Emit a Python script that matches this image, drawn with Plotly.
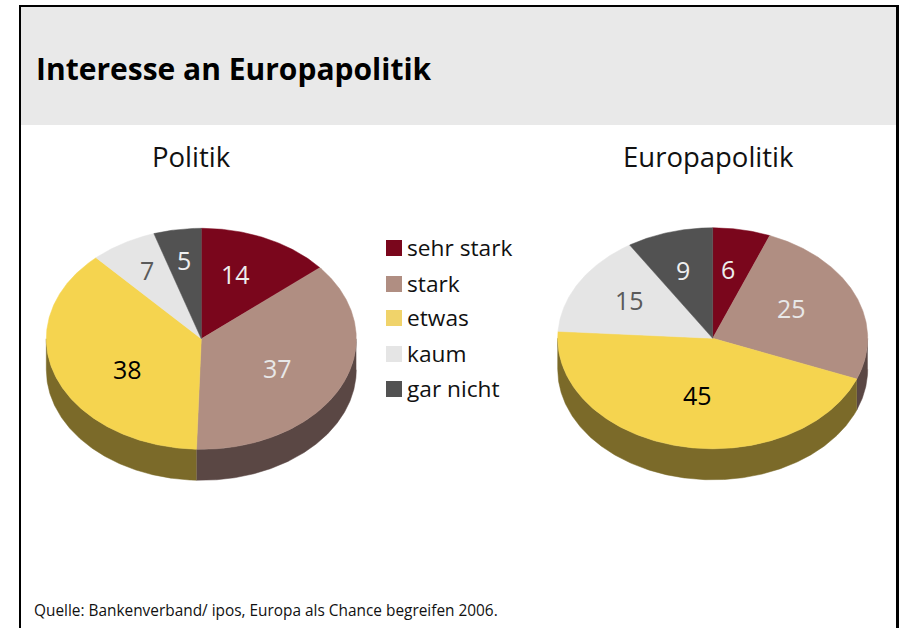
import numpy as np
import plotly.graph_objects as go

CATEGORIES = ["sehr stark", "stark", "etwas", "kaum", "gar nicht"]
POLITIK = [14, 37, 38, 7, 5]
EUROPAPOLITIK = [6, 25, 45, 15, 9]
COLORS = ["#7A061C", "#B08E82", "#F5D44F", "#E5E5E5", "#525252"]
LEGEND_COLORS = ["#7A061C", "#B08E82", "#F0D36A", "#E5E5E5", "#525252"]
SIDE_COLORS = ["#3D030E", "#5A4744", "#7B6A29", "#737373", "#292929"]
LABEL_COLORS = ["#EDEDED", "#E8E8E8", "#000000", "#5A5A5A", "#F0F0F0"]
FONT = "Open Sans"

W, H = 899, 628
RX, RY, DEPTH = 155, 110.5, 31

fig = go.Figure()


def wedge(cx, cy, a0, a1):
    t = np.radians(np.linspace(a0, a1, max(int(abs(a1 - a0) * 2), 2)))
    return cx + RX * np.sin(t), cy - RY * np.cos(t)


def add_pie(values, cx, cy, label_pos):
    total = sum(values)
    edges = np.concatenate([[0], np.cumsum(values)]) / total * 360
    # rim: only the front half (90..270 degrees) is visible
    for i in range(len(values)):
        a0, a1 = max(edges[i], 90), min(edges[i + 1], 270)
        if a1 <= a0:
            continue
        x, y = wedge(cx, cy, a0, a1)
        fig.add_trace(go.Scatter(
            x=np.concatenate([x, x[::-1]]),
            y=np.concatenate([y, y[::-1] + DEPTH]),
            mode="lines", fill="toself", fillcolor=SIDE_COLORS[i],
            line=dict(width=0.5, color=SIDE_COLORS[i]), hoverinfo="skip", showlegend=False))
    for i, v in enumerate(values):
        x, y = wedge(cx, cy, edges[i], edges[i + 1])
        fig.add_trace(go.Scatter(
            x=np.concatenate([[cx], x, [cx]]),
            y=np.concatenate([[cy], y, [cy]]),
            mode="lines", fill="toself", fillcolor=COLORS[i],
            line=dict(width=0.5, color=COLORS[i]), name=CATEGORIES[i], showlegend=False))
    for i, v in enumerate(values):
        fig.add_annotation(x=label_pos[i][0], y=label_pos[i][1], text=str(v), showarrow=False,
                           xanchor="center", yanchor="middle",
                           font=dict(family=FONT, size=25, color=LABEL_COLORS[i]))


add_pie(POLITIK, 201.3, 338.8, [(235.5, 274), (277, 368), (127.5, 369), (146.5, 270), (184, 260)])
add_pie(EUROPAPOLITIK, 712.7, 338.3, [(727.5, 269), (791, 308), (697, 395), (629, 300), (683, 270)])

# legend
LEGEND_Y = [247.5, 283.5, 317.5, 353.5, 388.5]
for name, color, y in zip(CATEGORIES, LEGEND_COLORS, LEGEND_Y):
    fig.add_shape(type="rect", x0=386, x1=402, y0=y - 7.5, y1=y + 8.5, fillcolor=color, line_width=0, layer="above")
    fig.add_annotation(x=405, y=y, text=name, showarrow=False, xanchor="left", yanchor="middle",
                       font=dict(family=FONT, size=22.7, color="#111111"))

fig.add_annotation(x=34, y=68, text="<b>Interesse an Europapolitik</b>", showarrow=False,
                   xanchor="left", yanchor="middle", font=dict(family=FONT, size=30, color="#000000"))
fig.add_annotation(x=191, y=156, text="Politik", showarrow=False, xanchor="center", yanchor="middle",
                   font=dict(family=FONT, size=27.5, color="#111111"))
fig.add_annotation(x=708, y=156, text="Europapolitik", showarrow=False, xanchor="center", yanchor="middle",
                   font=dict(family=FONT, size=27.5, color="#111111"))
fig.add_annotation(x=32, y=610, text="Quelle: Bankenverband/ ipos, Europa als Chance begreifen 2006.", showarrow=False,
                   xanchor="left", yanchor="middle", font=dict(family=FONT, size=15.4, color="#111111"))

# header band and frame
fig.add_shape(type="rect", x0=20, x1=896, y0=6, y1=125, fillcolor="#E9E9E9", line_width=0, layer="below")
fig.add_shape(type="rect", x0=19, x1=899, y0=5, y1=7, fillcolor="#000000", line_width=0, layer="above")
fig.add_shape(type="rect", x0=19, x1=21, y0=5, y1=628, fillcolor="#000000", line_width=0, layer="above")
fig.add_shape(type="rect", x0=896, x1=899, y0=5, y1=628, fillcolor="#000000", line_width=0, layer="above")

fig.update_xaxes(range=[0, W], visible=False, fixedrange=True)
fig.update_yaxes(range=[H, 0], visible=False, fixedrange=True)
fig.update_layout(width=W, height=H, margin=dict(l=0, r=0, t=0, b=0), paper_bgcolor="white",
                  plot_bgcolor="white", showlegend=False)
fig.write_html("out.html", config={"displayModeBar": False},
               post_script="document.body.style.margin='0';document.body.style.overflow='hidden';")
